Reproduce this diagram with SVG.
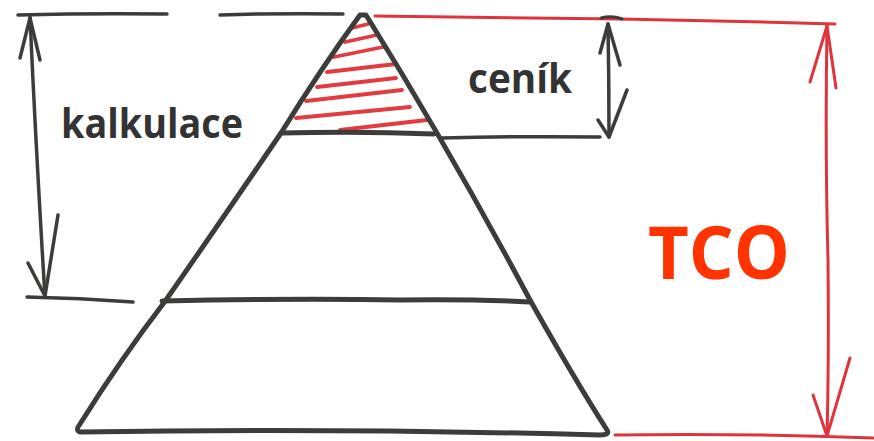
<svg xmlns="http://www.w3.org/2000/svg" width="874" height="441" viewBox="0 0 874 441">
<style>
.ink{fill:none;stroke:#3a3d3a;stroke-width:5;stroke-linecap:round;stroke-linejoin:round}
.thin{fill:none;stroke:#3a3d3a;stroke-width:3.5;stroke-linecap:round;stroke-linejoin:round}
.red{fill:none;stroke:#e0343c;stroke-width:3;stroke-linecap:round;stroke-linejoin:round}
.hatch{fill:none;stroke:#e23b40;stroke-width:3.8;stroke-linecap:round}
.lbl{font-family:"Open Sans","Liberation Sans",sans-serif;font-weight:bold;fill:#333333}
</style>
<rect width="874" height="441" fill="#ffffff"/>
<g id="hatching">
<line class="hatch" x1="352" y1="28" x2="368" y2="24"/>
<line class="hatch" x1="345" y1="42" x2="377" y2="35"/>
<line class="hatch" x1="334" y1="57" x2="383" y2="47"/>
<line class="hatch" x1="327" y1="72" x2="396" y2="64"/>
<line class="hatch" x1="317" y1="87" x2="396" y2="78"/>
<line class="hatch" x1="306" y1="101" x2="402" y2="90"/>
<line class="hatch" x1="296" y1="118" x2="410" y2="107"/>
<line class="hatch" x1="340" y1="130" x2="427" y2="120"/>
</g>
<g id="pyramid">
<path class="ink" d="M360,15 L366,15 Q450,150 530,300 Q575,380 607,430 Q610,435 600,435 Q340,428 80,432 Q75,430 80,424 Q120,360 166,300 Q225,215 281,133 Q320,70 360,15 Z"/>
<path class="ink" d="M281,133 Q360,131 434,134"/>
<path class="ink" d="M162,301 Q300,298 400,300 Q470,299 530,302"/>
</g>
<g id="connectors">
<g id="kalkulace-dim">
<path class="thin" d="M18,15 Q90,13 167,14"/>
<path class="thin" d="M220,15 Q280,13 343,14"/>
<path class="thin" d="M27,297 Q80,298 133,302"/>
<path class="thin" d="M30,17 Q36,150 45,297"/>
<path class="thin" d="M20,58 L30,18 L40,60"/>
<path class="thin" d="M28,263 L45,296 L58,215"/>
</g>
<g id="cenik-dim">
<path class="thin" d="M442,138 Q520,136 600,137"/>
<path class="thin" d="M608,24 Q609,80 609,137"/>
<path class="thin" d="M600,53 L608,24 L620,65"/>
<path class="thin" d="M598,120 L609,137 L627,90"/>
</g>
<g id="tco-dim">
<path class="red" d="M375,16 Q500,17 620,19 Q730,21 835,24"/>
<path class="red" d="M615,435 Q740,433 873,438"/>
<path class="red" d="M827,25 Q825,150 828,260 Q829,360 827,436"/>
<path class="red" d="M810,82 L827,26 L836,88"/>
<path class="red" d="M813,395 L827,436 L850,358"/>
<path d="M601,18 Q612,15 622,19" fill="none" stroke="#3a3d3a" stroke-width="3" stroke-linecap="round"/>
</g>
</g>
<g id="label-kalkulace">
<text class="lbl" x="61" y="138" font-size="42" textLength="182" lengthAdjust="spacingAndGlyphs">kalkulace</text>
</g>
<g id="label-cenik">
<text class="lbl" x="468" y="93" font-size="42" textLength="104" lengthAdjust="spacingAndGlyphs">ceník</text>
</g>
<g id="label-tco">
<text x="648" y="279" font-family="'Open Sans','Liberation Sans',sans-serif" font-weight="bold" font-size="74" fill="#ff3300" textLength="142" lengthAdjust="spacingAndGlyphs">TCO</text>
</g>
</svg>
